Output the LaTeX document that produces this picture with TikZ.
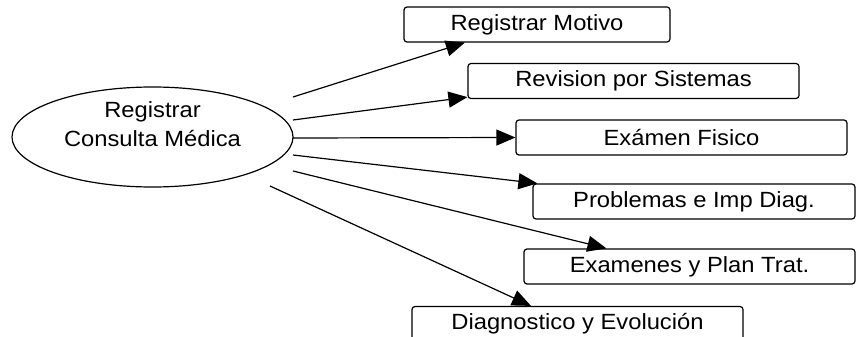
\documentclass[tikz,border=0pt]{standalone}
\usepackage{fontspec}
\setmainfont{Liberation Sans}[FakeStretch=1.08]
\usetikzlibrary{shapes.geometric,arrows.meta,calc}

\begin{document}
\begin{tikzpicture}[x=1pt, y=-1pt, line width=1.2pt,
    font=\fontsize{22}{29}\selectfont,
    caja/.style={draw, rounded corners=3pt, minimum height=35pt, inner sep=0pt},
    flecha/.style={-{Triangle[length=19pt,width=16pt]}}]

  \useasboundingbox (0,0) rectangle (856,337);
  \clip (0,0) rectangle (856,337);

	%caso de uso
  \node[draw, ellipse, minimum width=281pt, minimum height=100pt, inner sep=0pt, align=center] (cons) at (152.5,137) {Registrar\\Consulta Médica\\[-4pt]};

	%cajas
    \foreach \x/\y/\w/\txt/\name in {537/24.5/266/Registrar Motivo/mot, 633.5/81/331/Revision por Sistemas/rev,
        681.5/137.5/331/Exámen Fisico/exa, 694/201.5/322/Problemas e Imp Diag./pro,
        689.5/266.5/331/Examenes y Plan Trat./pla, 577.5/324/331/Diagnostico y Evolución/dia}{
           \node[caja, minimum width=\w pt] (\name) at (\x,\y) {\txt};
    }

	%salidas
    \foreach \i/\y in {1/97,2/120,3/138,4/155,5/171}{
           \coordinate (s\i) at (293,\y);
    }
    \coordinate (s6) at (270,186);

	%flechas
    \draw[flecha] (s1) -- ($(mot.south west)!0.23!(mot.south east)$);
    \draw[flecha] (s2) -- ([yshift=2pt]rev.south west);
    \draw[flecha] (s3) -- (exa.west);
    \draw[flecha] (s4) -- ([xshift=5pt]pro.north west);
    \draw[flecha] (s5) -- ($(pla.north west)!0.25!(pla.north east)$);
    \draw[flecha] (s6) -- ($(dia.north west)!0.36!(dia.north east)$);

\end{tikzpicture}
\end{document}
